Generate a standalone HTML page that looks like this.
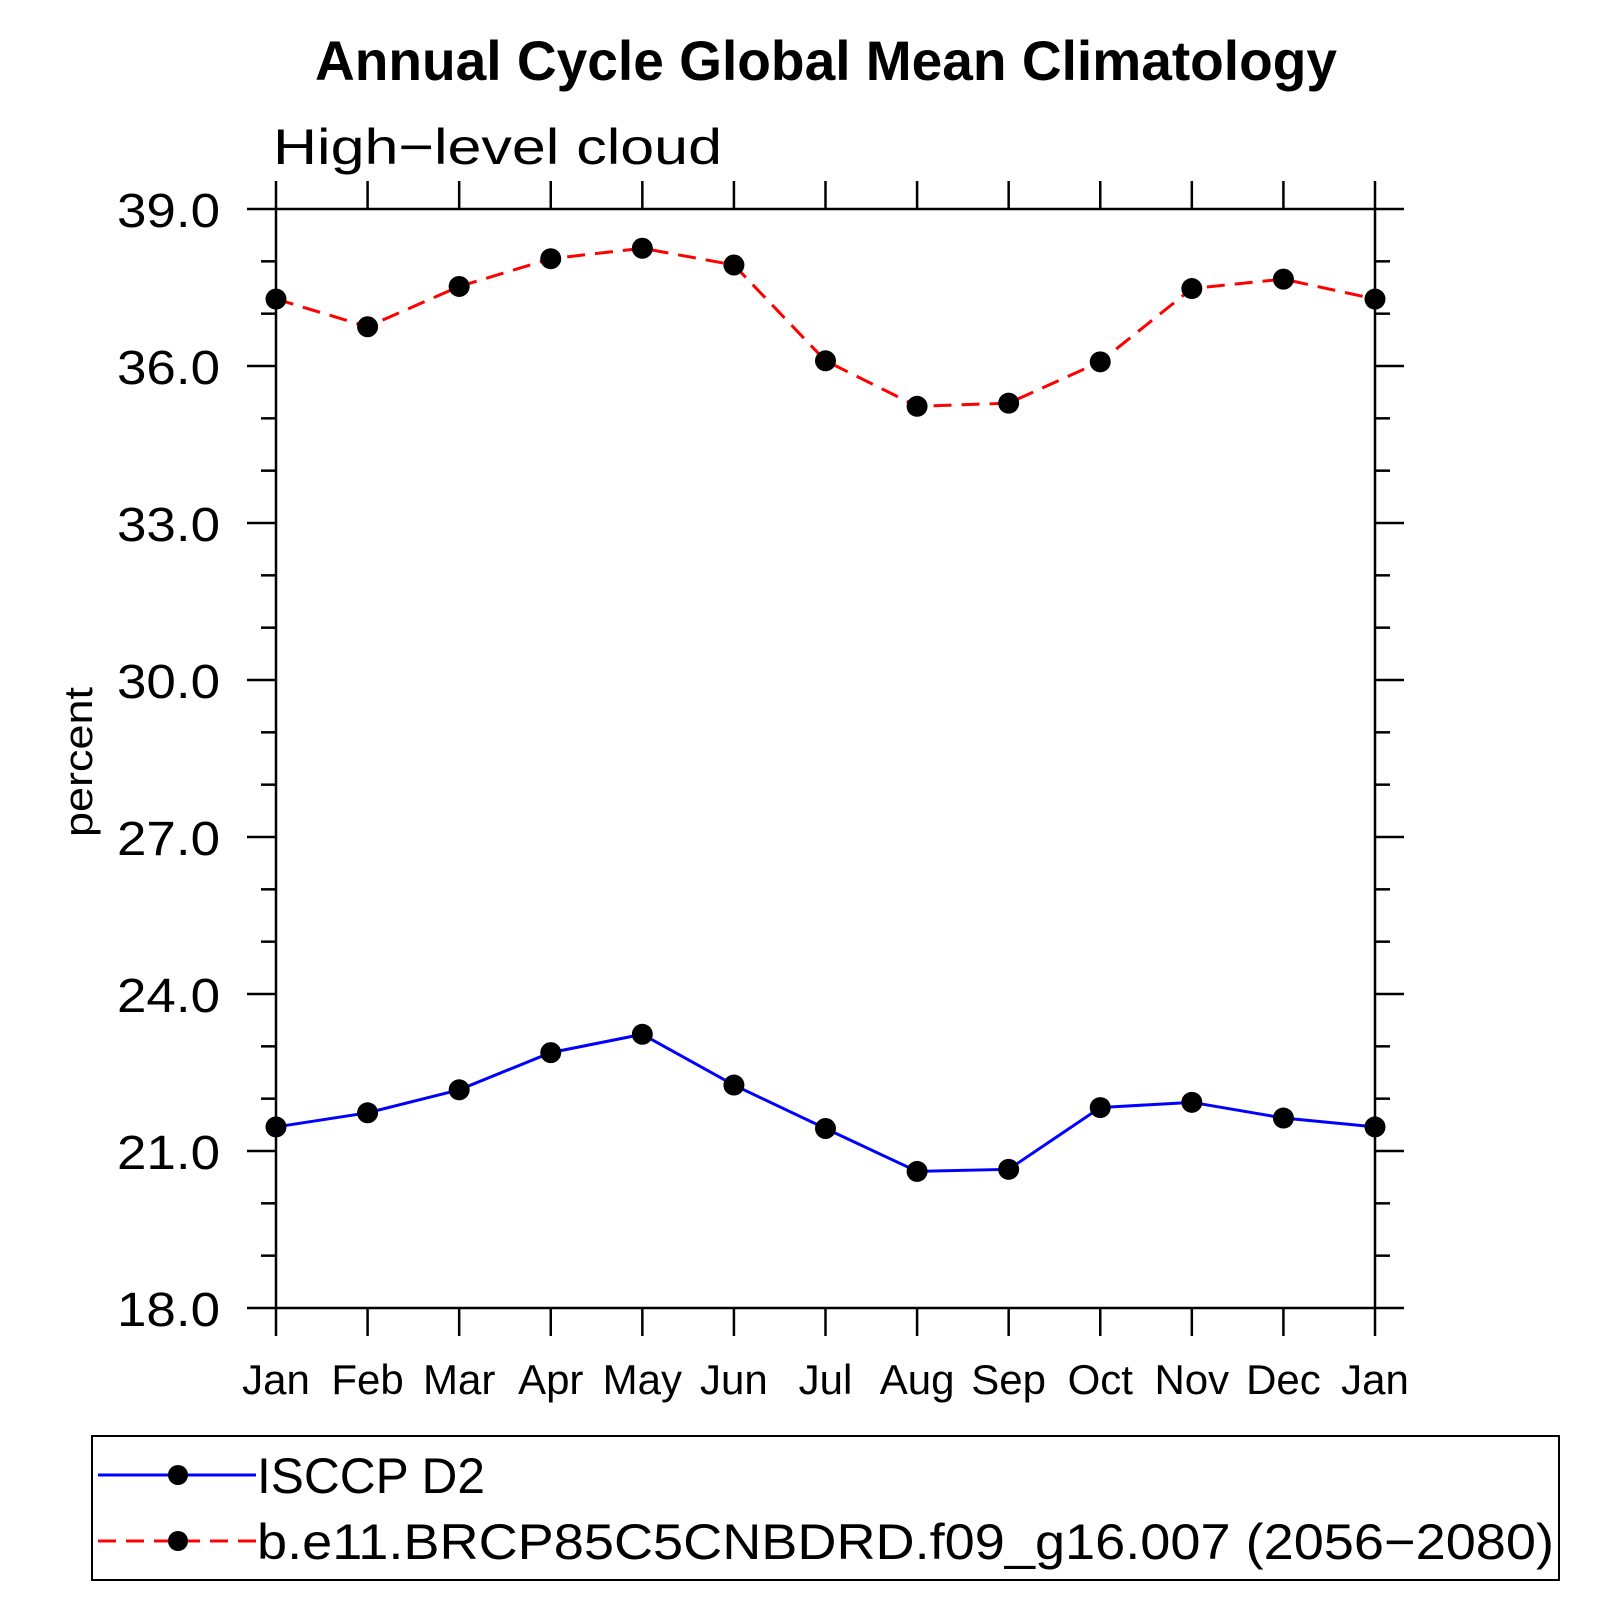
<!DOCTYPE html>
<html><head><meta charset="utf-8"><style>
html,body{margin:0;padding:0;background:#fff;}
svg{display:block;font-family:"Liberation Sans",sans-serif;}
</style></head><body>
<svg id="chart" width="1619" height="1619" viewBox="0 0 1619 1619" xmlns="http://www.w3.org/2000/svg">
<text x="826" y="80" text-anchor="middle" font-size="56" font-weight="bold" textLength="1022" lengthAdjust="spacingAndGlyphs">Annual Cycle Global Mean Climatology</text>
<text x="273" y="164" font-size="50" textLength="449" lengthAdjust="spacingAndGlyphs">High−level cloud</text>
<text transform="translate(92,762) rotate(-90)" text-anchor="middle" font-size="40" textLength="150" lengthAdjust="spacingAndGlyphs">percent</text>
<g id="axes"></g>
<g id="series"></g>
<g>
<rect x="92" y="1436" width="1467" height="144" fill="none" stroke="#000" stroke-width="2"/>
<line x1="98" y1="1475" x2="256" y2="1475" stroke="#00f" stroke-width="3"/>
<circle cx="178" cy="1475" r="10" fill="#000"/>
<text x="257" y="1493" font-size="50" textLength="228" lengthAdjust="spacingAndGlyphs">ISCCP D2</text>
<line x1="98" y1="1541" x2="256" y2="1541" stroke="#f00" stroke-width="3" stroke-dasharray="18,10"/>
<circle cx="178" cy="1541" r="10" fill="#000"/>
<text x="257" y="1559" font-size="50" textLength="1297" lengthAdjust="spacingAndGlyphs">b.e11.BRCP85C5CNBDRD.f09_g16.007 (2056−2080)</text>
</g>
</svg>
<script>
const months = ["Jan","Feb","Mar","Apr","May","Jun","Jul","Aug","Sep","Oct","Nov","Dec","Jan"];
const isccp = [21.46,21.73,22.17,22.88,23.23,22.26,21.43,20.61,20.65,21.83,21.93,21.63,21.46];
const model = [37.28,36.75,37.52,38.05,38.25,37.93,36.10,35.23,35.29,36.08,37.48,37.66,37.28];
const yTicks = ["18.0","21.0","24.0","27.0","30.0","33.0","36.0","39.0"];
const yMin = 18, yMax = 39;

const L=276,R=1375,T=209,B=1308;
const NS="http://www.w3.org/2000/svg";
function xs(i){return L+(R-L)*i/(months.length-1);}
function ys(v){return B-(B-T)*(v-yMin)/(yMax-yMin);}
function mk(tag,attrs,parent){const e=document.createElementNS(NS,tag);for(const k in attrs)e.setAttribute(k,attrs[k]);parent.appendChild(e);return e;}
const ax=document.getElementById('axes');
let e=mk('rect',{x:L,y:T,width:R-L,height:B-T,fill:'none',stroke:'#000','stroke-width':2.5},ax);


for(let v=yMin;v<=yMax;v++){
  const y=ys(v);const major=(v-yMin)%3===0;const len=major?29:15;
  e=mk('line',{x1:L-len,y1:y,x2:L,y2:y,stroke:'#000','stroke-width':2.5},ax);
  
  
  e=mk('line',{x1:R,y1:y,x2:R+len,y2:y,stroke:'#000','stroke-width':2.5},ax);
  
  
}
yTicks.forEach(t=>{
  const v=parseFloat(t);
  e=mk('text',{x:220,y:ys(v)+18,'text-anchor':'end','font-size':48,textLength:103,lengthAdjust:'spacingAndGlyphs'},ax);
  e.textContent=t;
  
  
});
months.forEach((m,i)=>{
  const x=xs(i);
  e=mk('line',{x1:x,y1:T-28,x2:x,y2:T,stroke:'#000','stroke-width':2.5},ax);
  
  
  e=mk('line',{x1:x,y1:B,x2:x,y2:B+28,stroke:'#000','stroke-width':2.5},ax);
  
  
  e=mk('text',{x:x,y:1394,'text-anchor':'middle','font-size':42},ax);
  e.textContent=m;
  
  
});
const sg=document.getElementById('series');
function drawSeries(vals,color,dash,name){
  const pts=vals.map((v,i)=>xs(i)+','+ys(v)).join(' ');
  const a={points:pts,fill:'none',stroke:color,'stroke-width':3};
  if(dash)a['stroke-dasharray']=dash;
  e=mk('polyline',a,sg);
  
  
  vals.forEach((v,i)=>{
    e=mk('circle',{cx:xs(i),cy:ys(v),r:10.5,fill:'#000'},sg);
    
    
  });
}
drawSeries(isccp,'#00f',null,'isccp');
drawSeries(model,'#f00','18,10','model');
</script>
</body></html>
